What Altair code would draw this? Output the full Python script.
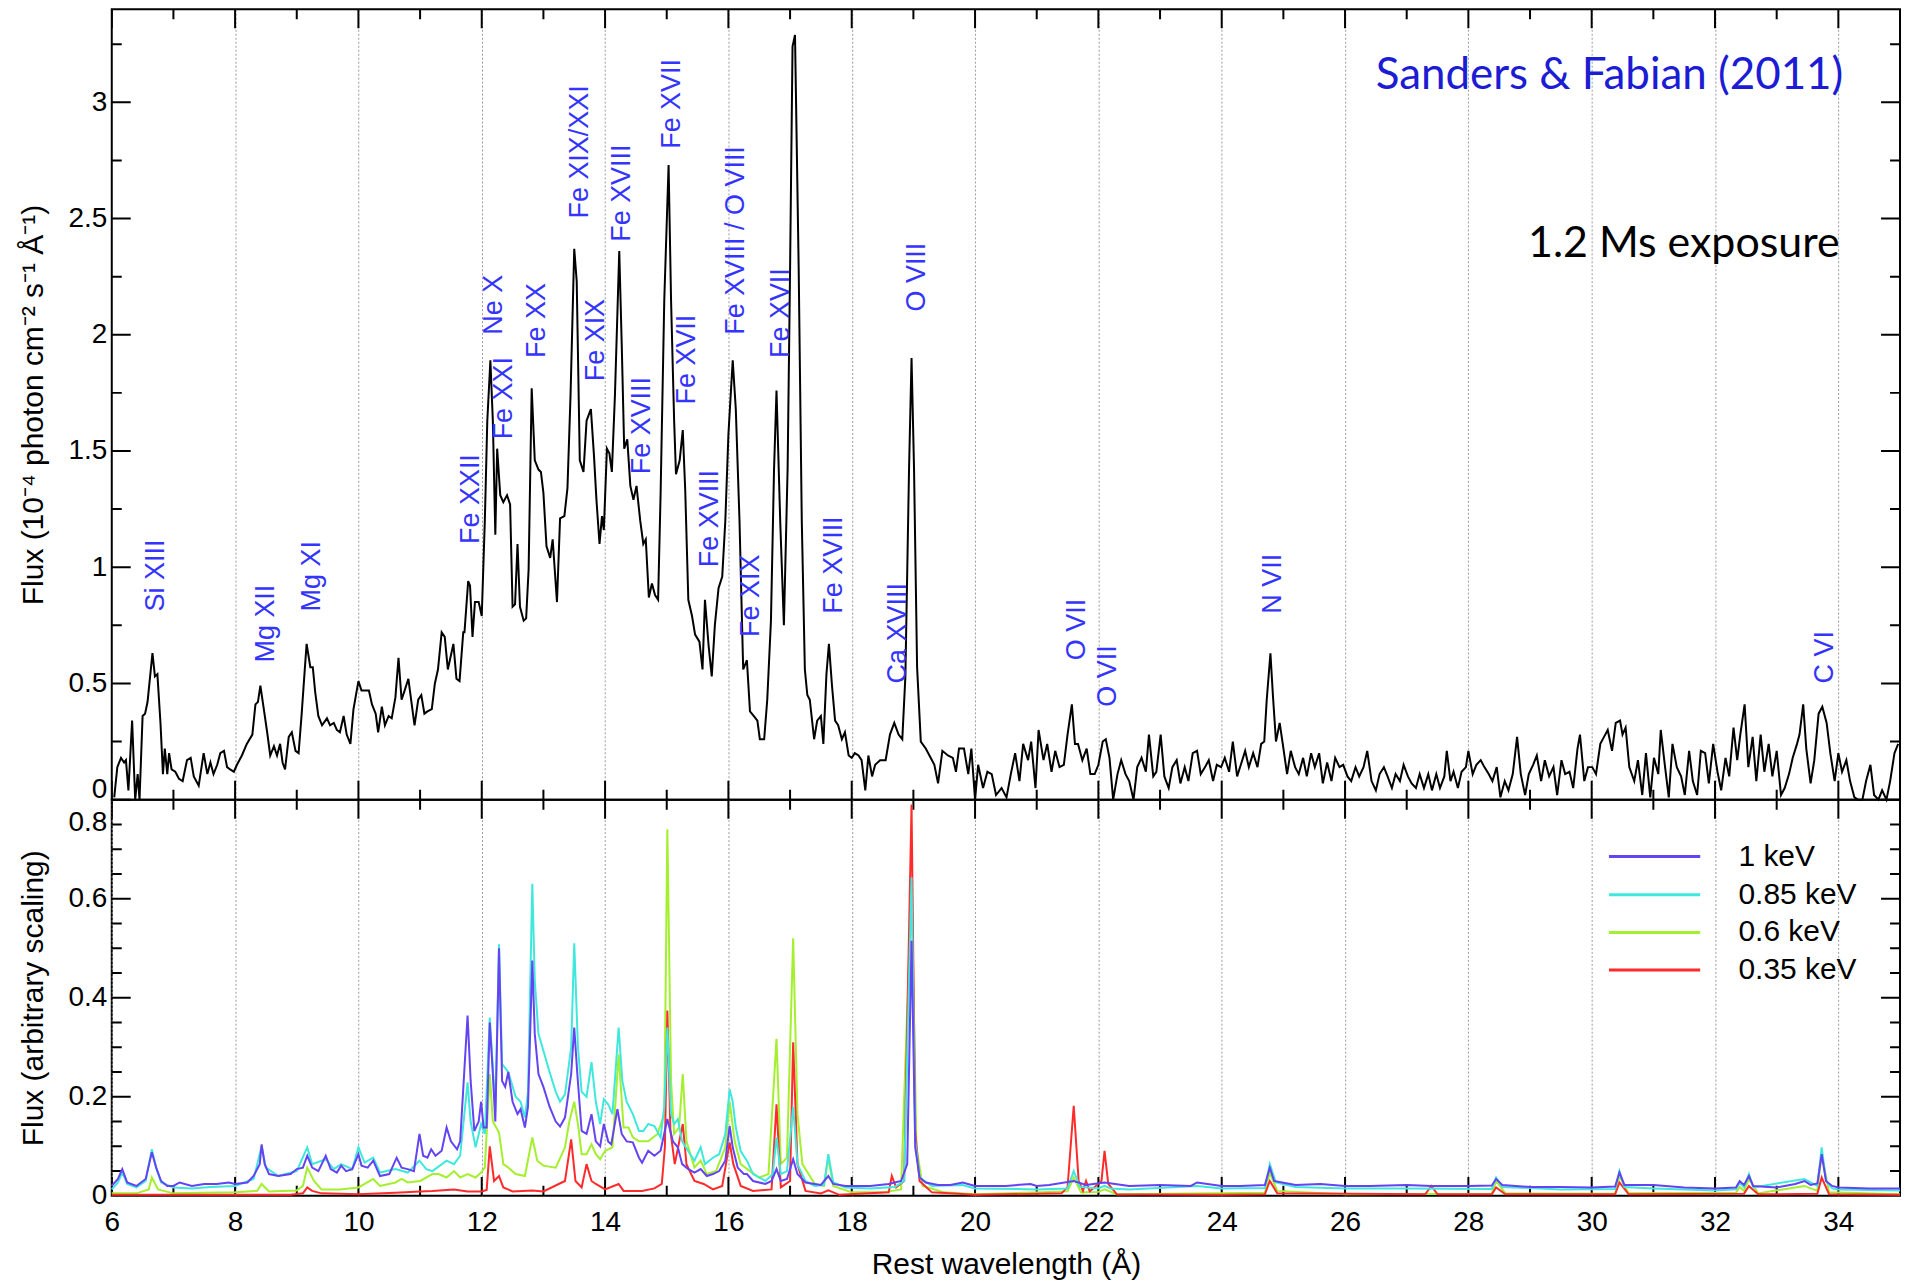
import altair as alt
import pandas as pd

# ---------------- observed spectrum (top panel) ----------------
obs_wl = [
    6.04, 6.09, 6.15, 6.20, 6.23, 6.27, 6.33, 6.38, 6.42, 6.45,
    6.50, 6.54, 6.58, 6.66, 6.70, 6.74, 6.79, 6.83, 6.86, 6.90,
    6.93, 6.97, 7.03, 7.09, 7.15, 7.22, 7.28, 7.33, 7.41, 7.49,
    7.55, 7.60, 7.65, 7.71, 7.76, 7.82, 7.87, 7.92, 7.98, 8.03,
    8.11, 8.19, 8.28, 8.33, 8.37, 8.41, 8.46, 8.52, 8.57, 8.63,
    8.68, 8.73, 8.77, 8.81, 8.87, 8.92, 8.98, 9.03, 9.08, 9.13,
    9.16, 9.22, 9.26, 9.30, 9.35, 9.41, 9.49, 9.54, 9.60, 9.65,
    9.70, 9.76, 9.81, 9.87, 9.92, 10.00, 10.05, 10.12, 10.17, 10.22,
    10.28, 10.32, 10.38, 10.43, 10.49, 10.54, 10.60, 10.65, 10.70, 10.75,
    10.81, 10.86, 10.91, 10.97, 11.02, 11.07, 11.12, 11.19, 11.24, 11.29,
    11.35, 11.40, 11.45, 11.54, 11.59, 11.64, 11.70, 11.72, 11.78, 11.81,
    11.85, 11.89, 11.95, 12.00, 12.05, 12.09, 12.14, 12.18, 12.22, 12.25,
    12.30, 12.35, 12.41, 12.46, 12.50, 12.54, 12.58, 12.62, 12.68, 12.72,
    12.76, 12.81, 12.86, 12.92, 12.96, 13.00, 13.05, 13.11, 13.15, 13.22,
    13.27, 13.34, 13.39, 13.44, 13.50, 13.54, 13.59, 13.65, 13.70, 13.77,
    13.82, 13.86, 13.91, 13.95, 13.98, 14.03, 14.07, 14.11, 14.16, 14.23,
    14.27, 14.31, 14.36, 14.41, 14.46, 14.51, 14.57, 14.62, 14.66, 14.71,
    14.76, 14.81, 14.86, 14.90, 14.96, 15.03, 15.07, 15.12, 15.15, 15.21,
    15.26, 15.30, 15.35, 15.41, 15.46, 15.53, 15.58, 15.62, 15.68, 15.73,
    15.78, 15.84, 15.90, 15.95, 16.00, 16.07, 16.12, 16.18, 16.22, 16.24,
    16.30, 16.35, 16.41, 16.47, 16.51, 16.58, 16.63, 16.69, 16.74, 16.78,
    16.84, 16.90, 16.96, 17.00, 17.04, 17.08, 17.14, 17.19, 17.24, 17.28,
    17.32, 17.39, 17.44, 17.50, 17.54, 17.59, 17.63, 17.68, 17.73, 17.78,
    17.84, 17.89, 17.95, 18.00, 18.05, 18.11, 18.16, 18.22, 18.27, 18.33,
    18.38, 18.46, 18.55, 18.62, 18.69, 18.76, 18.82, 18.87, 18.93, 18.97,
    19.01, 19.06, 19.12, 19.20, 19.28, 19.34, 19.40, 19.47, 19.56, 19.64,
    19.69, 19.74, 19.82, 19.89, 19.94, 20.00, 20.05, 20.13, 20.20, 20.27,
    20.34, 20.43, 20.51, 20.58, 20.65, 20.72, 20.78, 20.86, 20.91, 20.98,
    21.03, 21.11, 21.17, 21.24, 21.30, 21.37, 21.44, 21.50, 21.57, 21.62,
    21.67, 21.74, 21.81, 21.87, 21.94, 22.00, 22.07, 22.12, 22.18, 22.24,
    22.31, 22.37, 22.44, 22.50, 22.57, 22.63, 22.70, 22.77, 22.82, 22.89,
    22.94, 23.01, 23.07, 23.14, 23.20, 23.27, 23.33, 23.40, 23.46, 23.53,
    23.60, 23.66, 23.73, 23.79, 23.86, 23.92, 23.99, 24.05, 24.12, 24.18,
    24.25, 24.31, 24.38, 24.44, 24.51, 24.58, 24.64, 24.69, 24.73, 24.79,
    24.83, 24.88, 24.94, 24.99, 25.06, 25.12, 25.19, 25.25, 25.32, 25.38,
    25.45, 25.51, 25.58, 25.64, 25.71, 25.78, 25.84, 25.91, 25.97, 26.04,
    26.10, 26.17, 26.23, 26.30, 26.36, 26.43, 26.50, 26.56, 26.63, 26.69,
    26.76, 26.82, 26.89, 26.95, 27.02, 27.08, 27.15, 27.21, 27.28, 27.35,
    27.41, 27.48, 27.54, 27.61, 27.65, 27.71, 27.76, 27.83, 27.89, 27.96,
    28.00, 28.07, 28.13, 28.20, 28.26, 28.33, 28.39, 28.46, 28.52, 28.59,
    28.65, 28.72, 28.79, 28.85, 28.92, 28.98, 29.05, 29.11, 29.18, 29.24,
    29.31, 29.38, 29.44, 29.51, 29.57, 29.64, 29.70, 29.77, 29.81, 29.88,
    29.94, 30.01, 30.07, 30.14, 30.20, 30.26, 30.33, 30.39, 30.46, 30.50,
    30.55, 30.61, 30.69, 30.75, 30.82, 30.88, 30.95, 31.01, 31.08, 31.12,
    31.19, 31.25, 31.31, 31.38, 31.45, 31.51, 31.58, 31.64, 31.71, 31.77,
    31.84, 31.90, 31.97, 32.04, 32.10, 32.17, 32.23, 32.30, 32.36, 32.41,
    32.48, 32.54, 32.61, 32.67, 32.74, 32.80, 32.87, 32.93, 33.00, 33.07,
    33.13, 33.20, 33.26, 33.33, 33.37, 33.43, 33.48, 33.55, 33.61, 33.68,
    33.74, 33.81, 33.87, 33.94, 34.00, 34.06, 34.13, 34.19, 34.26, 34.32,
    34.39, 34.45, 34.52, 34.58, 34.65, 34.71, 34.78, 34.84, 34.91, 34.97,
]
obs_flux = [
    0.01, 0.14, 0.18, 0.16, 0.17, 0.04, 0.34, 0.00, 0.11, 0.00,
    0.36, 0.37, 0.42, 0.63, 0.53, 0.54, 0.33, 0.11, 0.22, 0.11,
    0.20, 0.13, 0.12, 0.09, 0.08, 0.17, 0.18, 0.10, 0.06, 0.20,
    0.11, 0.16, 0.11, 0.15, 0.20, 0.21, 0.14, 0.13, 0.12, 0.15,
    0.19, 0.24, 0.28, 0.41, 0.42, 0.49, 0.40, 0.29, 0.19, 0.23,
    0.19, 0.24, 0.16, 0.13, 0.27, 0.29, 0.21, 0.20, 0.37, 0.56,
    0.67, 0.57, 0.57, 0.46, 0.36, 0.32, 0.35, 0.32, 0.33, 0.30,
    0.29, 0.36, 0.28, 0.24, 0.39, 0.51, 0.47, 0.47, 0.47, 0.41,
    0.37, 0.29, 0.40, 0.32, 0.36, 0.35, 0.44, 0.61, 0.43, 0.47,
    0.52, 0.42, 0.32, 0.43, 0.45, 0.37, 0.38, 0.39, 0.50, 0.56,
    0.72, 0.70, 0.56, 0.67, 0.52, 0.51, 0.72, 0.72, 0.94, 0.92,
    0.70, 0.85, 0.85, 0.79, 1.20, 1.63, 1.89, 1.63, 1.14, 1.51,
    1.31, 1.28, 1.31, 1.27, 0.83, 0.84, 1.10, 0.83, 0.77, 0.78,
    0.99, 1.77, 1.46, 1.42, 1.41, 1.32, 1.09, 1.04, 1.12, 0.85,
    1.21, 1.22, 1.34, 1.74, 2.37, 2.23, 1.46, 1.41, 1.63, 1.68,
    1.48, 1.29, 1.10, 1.22, 1.16, 1.51, 1.49, 1.41, 1.74, 2.36,
    1.96, 1.51, 1.55, 1.35, 1.29, 1.35, 1.20, 1.10, 1.12, 0.87,
    0.93, 0.88, 0.86, 1.31, 2.15, 2.73, 2.15, 1.63, 1.40, 1.46,
    1.59, 1.33, 0.86, 0.79, 0.71, 0.68, 0.56, 0.86, 0.66, 0.53,
    0.75, 0.91, 0.96, 1.20, 1.57, 1.89, 1.68, 1.20, 0.77, 0.56,
    0.60, 0.38, 0.36, 0.34, 0.26, 0.26, 0.43, 0.77, 1.42, 1.76,
    1.20, 0.75, 1.42, 2.28, 3.24, 3.29, 2.28, 1.20, 0.56, 0.45,
    0.43, 0.26, 0.34, 0.36, 0.24, 0.54, 0.67, 0.49, 0.34, 0.32,
    0.26, 0.29, 0.19, 0.18, 0.20, 0.19, 0.17, 0.04, 0.19, 0.10,
    0.15, 0.17, 0.17, 0.28, 0.33, 0.28, 0.26, 0.53, 1.43, 1.90,
    1.43, 0.57, 0.25, 0.22, 0.18, 0.15, 0.07, 0.21, 0.19, 0.18,
    0.12, 0.22, 0.22, 0.11, 0.22, 0.00, 0.15, 0.05, 0.12, 0.11,
    0.02, 0.05, 0.01, 0.11, 0.20, 0.08, 0.24, 0.17, 0.25, 0.05,
    0.30, 0.17, 0.24, 0.12, 0.21, 0.14, 0.15, 0.28, 0.41, 0.24,
    0.24, 0.17, 0.22, 0.11, 0.11, 0.15, 0.25, 0.26, 0.18, 0.00,
    0.11, 0.17, 0.11, 0.08, 0.00, 0.14, 0.18, 0.12, 0.28, 0.10,
    0.12, 0.28, 0.10, 0.05, 0.14, 0.17, 0.07, 0.14, 0.08, 0.20,
    0.21, 0.11, 0.14, 0.17, 0.08, 0.15, 0.14, 0.18, 0.12, 0.25,
    0.10, 0.15, 0.21, 0.14, 0.20, 0.14, 0.24, 0.25, 0.43, 0.63,
    0.45, 0.25, 0.33, 0.24, 0.11, 0.21, 0.14, 0.11, 0.18, 0.10,
    0.20, 0.14, 0.20, 0.07, 0.16, 0.08, 0.18, 0.14, 0.15, 0.10,
    0.08, 0.14, 0.10, 0.14, 0.21, 0.08, 0.04, 0.11, 0.14, 0.10,
    0.05, 0.11, 0.08, 0.15, 0.10, 0.07, 0.05, 0.11, 0.05, 0.11,
    0.04, 0.11, 0.05, 0.10, 0.21, 0.08, 0.12, 0.05, 0.12, 0.14,
    0.21, 0.11, 0.15, 0.17, 0.14, 0.11, 0.08, 0.14, 0.01, 0.08,
    0.04, 0.11, 0.27, 0.11, 0.02, 0.11, 0.15, 0.19, 0.08, 0.17,
    0.10, 0.14, 0.02, 0.17, 0.11, 0.12, 0.05, 0.22, 0.28, 0.08,
    0.14, 0.14, 0.11, 0.24, 0.27, 0.30, 0.21, 0.33, 0.34, 0.28,
    0.31, 0.14, 0.08, 0.17, 0.02, 0.20, 0.01, 0.18, 0.11, 0.30,
    0.14, 0.01, 0.24, 0.14, 0.10, 0.02, 0.21, 0.08, 0.02, 0.21,
    0.20, 0.07, 0.24, 0.12, 0.04, 0.18, 0.10, 0.31, 0.17, 0.28,
    0.41, 0.14, 0.27, 0.08, 0.28, 0.12, 0.24, 0.10, 0.21, 0.02,
    0.05, 0.11, 0.18, 0.24, 0.28, 0.41, 0.22, 0.07, 0.17, 0.37,
    0.40, 0.33, 0.20, 0.08, 0.20, 0.12, 0.17, 0.08, 0.01, 0.00,
    0.00, 0.08, 0.15, 0.02, 0.00, 0.04, 0.00, 0.08, 0.20, 0.24,
]

# ---------------- model spectra (bottom panel) ----------------
kev1_wl = [
    6.00, 6.10, 6.17, 6.25, 6.40, 6.55, 6.65, 6.72, 6.80, 6.90,
    7.00, 7.10, 7.30, 7.50, 7.70, 7.90, 8.00, 8.20, 8.30, 8.40,
    8.43, 8.48, 8.55, 8.70, 8.90, 9.00, 9.10, 9.17, 9.25, 9.35,
    9.47, 9.55, 9.65, 9.72, 9.80, 9.90, 10.00, 10.05, 10.15, 10.24,
    10.35, 10.50, 10.62, 10.70, 10.80, 10.90, 10.99, 11.05, 11.12, 11.18,
    11.25, 11.35, 11.43, 11.50, 11.60, 11.65, 11.77, 11.82, 11.88, 11.95,
    11.99, 12.03, 12.08, 12.13, 12.18, 12.22, 12.28, 12.33, 12.38, 12.43,
    12.50, 12.58, 12.63, 12.70, 12.75, 12.82, 12.86, 12.92, 13.00, 13.10,
    13.20, 13.27, 13.35, 13.45, 13.50, 13.55, 13.62, 13.70, 13.78, 13.85,
    13.92, 13.98, 14.05, 14.10, 14.20, 14.27, 14.35, 14.45, 14.55, 14.60,
    14.70, 14.80, 14.90, 15.01, 15.10, 15.18, 15.25, 15.35, 15.45, 15.55,
    15.65, 15.75, 15.85, 15.95, 16.02, 16.07, 16.15, 16.25, 16.30, 16.40,
    16.60, 16.70, 16.78, 16.85, 16.95, 17.05, 17.12, 17.25, 17.40, 17.50,
    17.62, 17.70, 17.90, 18.30, 18.60, 18.80, 18.90, 18.97, 19.03, 19.10,
    19.20, 19.40, 19.60, 19.80, 20.00, 20.50, 20.90, 21.00, 21.20, 21.60,
    21.80, 22.10, 22.50, 23.00, 23.50, 23.60, 24.00, 24.30, 24.70, 24.78,
    24.85, 24.98, 25.20, 25.60, 26.00, 26.40, 27.00, 27.40, 28.00, 28.38,
    28.45, 28.55, 29.00, 29.50, 30.00, 30.38, 30.45, 30.53, 31.00, 31.50,
    32.00, 32.34, 32.40, 32.47, 32.55, 32.62, 33.00, 33.30, 33.45, 33.55,
    33.66, 33.73, 33.80, 33.90, 34.00, 34.50, 35.00,
]
kev1_flux = [
    0.020, 0.034, 0.054, 0.027, 0.020, 0.034, 0.088, 0.057, 0.030, 0.020,
    0.020, 0.027, 0.020, 0.024, 0.024, 0.027, 0.024, 0.027, 0.040, 0.064,
    0.104, 0.064, 0.044, 0.040, 0.044, 0.054, 0.057, 0.081, 0.057, 0.050,
    0.081, 0.054, 0.047, 0.061, 0.050, 0.054, 0.084, 0.061, 0.057, 0.071,
    0.040, 0.044, 0.077, 0.057, 0.054, 0.050, 0.125, 0.081, 0.077, 0.094,
    0.081, 0.091, 0.138, 0.110, 0.094, 0.110, 0.364, 0.232, 0.131, 0.150,
    0.190, 0.138, 0.138, 0.350, 0.246, 0.150, 0.500, 0.232, 0.220, 0.250,
    0.190, 0.165, 0.175, 0.138, 0.180, 0.475, 0.327, 0.246, 0.220, 0.180,
    0.150, 0.140, 0.158, 0.246, 0.340, 0.246, 0.131, 0.125, 0.165, 0.110,
    0.100, 0.145, 0.110, 0.104, 0.175, 0.125, 0.110, 0.108, 0.077, 0.067,
    0.091, 0.081, 0.091, 0.155, 0.110, 0.098, 0.064, 0.054, 0.047, 0.054,
    0.040, 0.044, 0.050, 0.071, 0.141, 0.098, 0.057, 0.044, 0.044, 0.030,
    0.024, 0.030, 0.054, 0.030, 0.034, 0.074, 0.044, 0.027, 0.024, 0.022,
    0.040, 0.024, 0.020, 0.020, 0.024, 0.030, 0.064, 0.515, 0.098, 0.037,
    0.027, 0.022, 0.022, 0.027, 0.020, 0.020, 0.024, 0.020, 0.022, 0.030,
    0.022, 0.027, 0.020, 0.022, 0.020, 0.027, 0.020, 0.020, 0.022, 0.057,
    0.030, 0.027, 0.022, 0.024, 0.020, 0.020, 0.022, 0.020, 0.020, 0.021,
    0.034, 0.022, 0.018, 0.018, 0.017, 0.019, 0.047, 0.022, 0.022, 0.017,
    0.015, 0.017, 0.030, 0.022, 0.040, 0.020, 0.017, 0.024, 0.030, 0.022,
    0.025, 0.084, 0.030, 0.020, 0.017, 0.015, 0.015,
]

kev085_wl = [
    6.00, 6.10, 6.17, 6.25, 6.40, 6.55, 6.65, 6.72, 6.80, 7.00,
    7.30, 7.60, 8.00, 8.30, 8.43, 8.50, 8.70, 9.00, 9.17, 9.25,
    9.47, 9.60, 9.72, 9.90, 10.00, 10.10, 10.24, 10.35, 10.60, 10.80,
    10.99, 11.10, 11.20, 11.43, 11.55, 11.65, 11.77, 11.82, 11.90, 11.99,
    12.05, 12.13, 12.18, 12.22, 12.28, 12.33, 12.43, 12.55, 12.63, 12.70,
    12.75, 12.82, 12.86, 12.92, 13.00, 13.10, 13.20, 13.27, 13.35, 13.45,
    13.50, 13.56, 13.62, 13.70, 13.78, 13.85, 13.92, 13.98, 14.05, 14.12,
    14.22, 14.28, 14.35, 14.45, 14.55, 14.62, 14.70, 14.80, 14.90, 14.96,
    15.01, 15.07, 15.12, 15.18, 15.25, 15.35, 15.45, 15.55, 15.62, 15.75,
    15.85, 15.95, 16.02, 16.07, 16.12, 16.20, 16.30, 16.40, 16.60, 16.72,
    16.78, 16.85, 16.95, 17.05, 17.12, 17.25, 17.40, 17.55, 17.62, 17.70,
    17.90, 18.30, 18.70, 18.85, 18.97, 19.03, 19.10, 19.30, 19.80, 20.00,
    21.00, 21.50, 21.60, 21.70, 22.00, 22.10, 22.20, 22.50, 23.60, 24.00,
    24.70, 24.78, 24.88, 25.20, 26.00, 27.00, 28.38, 28.45, 28.55, 29.50,
    30.38, 30.45, 30.53, 31.00, 32.00, 32.34, 32.40, 32.47, 32.55, 32.62,
    33.45, 33.66, 33.73, 33.80, 33.90, 34.00, 35.00,
]
kev085_flux = [
    0.013, 0.027, 0.047, 0.024, 0.017, 0.030, 0.094, 0.057, 0.027, 0.017,
    0.015, 0.018, 0.020, 0.034, 0.100, 0.057, 0.040, 0.050, 0.098, 0.064,
    0.074, 0.054, 0.064, 0.054, 0.098, 0.067, 0.077, 0.047, 0.054, 0.047,
    0.071, 0.054, 0.050, 0.071, 0.064, 0.081, 0.229, 0.150, 0.098, 0.145,
    0.125, 0.360, 0.260, 0.170, 0.508, 0.266, 0.250, 0.200, 0.190, 0.158,
    0.210, 0.630, 0.434, 0.327, 0.293, 0.250, 0.210, 0.190, 0.205, 0.300,
    0.510, 0.300, 0.210, 0.200, 0.270, 0.190, 0.145, 0.195, 0.185, 0.165,
    0.340, 0.232, 0.190, 0.165, 0.131, 0.131, 0.145, 0.141, 0.118, 0.180,
    0.340, 0.165, 0.145, 0.155, 0.110, 0.090, 0.071, 0.098, 0.064, 0.077,
    0.084, 0.125, 0.215, 0.190, 0.138, 0.090, 0.071, 0.044, 0.030, 0.044,
    0.118, 0.044, 0.050, 0.180, 0.064, 0.030, 0.020, 0.022, 0.084, 0.027,
    0.017, 0.015, 0.018, 0.030, 0.643, 0.111, 0.037, 0.020, 0.022, 0.015,
    0.013, 0.015, 0.050, 0.018, 0.015, 0.020, 0.015, 0.013, 0.020, 0.015,
    0.016, 0.064, 0.027, 0.018, 0.015, 0.015, 0.014, 0.037, 0.018, 0.013,
    0.014, 0.050, 0.018, 0.015, 0.011, 0.013, 0.027, 0.017, 0.044, 0.017,
    0.034, 0.020, 0.098, 0.030, 0.015, 0.013, 0.011,
]

kev06_wl = [
    6.00, 6.40, 6.60, 6.65, 6.75, 7.00, 8.00, 8.36, 8.43, 8.55,
    9.00, 9.10, 9.17, 9.28, 9.40, 9.70, 10.00, 10.24, 10.35, 10.60,
    10.70, 10.80, 11.00, 11.20, 11.30, 11.43, 11.55, 11.65, 11.77, 11.90,
    11.99, 12.05, 12.13, 12.18, 12.28, 12.35, 12.43, 12.55, 12.70, 12.82,
    12.90, 13.00, 13.20, 13.35, 13.42, 13.50, 13.56, 13.62, 13.70, 13.78,
    13.85, 13.92, 14.00, 14.12, 14.22, 14.30, 14.38, 14.45, 14.55, 14.70,
    14.85, 14.96, 15.01, 15.07, 15.12, 15.20, 15.26, 15.32, 15.45, 15.55,
    15.65, 15.80, 15.95, 16.02, 16.10, 16.20, 16.35, 16.50, 16.65, 16.78,
    16.85, 16.95, 17.05, 17.12, 17.20, 17.40, 17.55, 17.62, 17.70, 18.00,
    18.50, 18.80, 18.97, 19.05, 19.15, 19.50, 20.00, 21.50, 21.60, 21.72,
    22.00, 22.10, 22.30, 24.00, 24.70, 24.78, 24.90, 26.00, 28.38, 28.45,
    28.60, 30.38, 30.45, 30.60, 32.34, 32.40, 32.47, 32.55, 32.70, 33.45,
    33.66, 33.73, 33.85, 35.00,
]
kev06_flux = [
    0.005, 0.005, 0.013, 0.037, 0.013, 0.005, 0.007, 0.010, 0.024, 0.009,
    0.011, 0.020, 0.057, 0.030, 0.013, 0.013, 0.017, 0.034, 0.020, 0.027,
    0.034, 0.027, 0.030, 0.044, 0.044, 0.037, 0.050, 0.037, 0.044, 0.037,
    0.047, 0.057, 0.246, 0.150, 0.128, 0.064, 0.057, 0.044, 0.040, 0.118,
    0.071, 0.061, 0.057, 0.098, 0.150, 0.190, 0.145, 0.084, 0.084, 0.104,
    0.084, 0.074, 0.091, 0.098, 0.286, 0.138, 0.138, 0.118, 0.110, 0.110,
    0.125, 0.165, 0.740, 0.232, 0.125, 0.138, 0.246, 0.110, 0.057, 0.071,
    0.044, 0.050, 0.098, 0.190, 0.111, 0.064, 0.050, 0.037, 0.044, 0.317,
    0.064, 0.077, 0.520, 0.165, 0.064, 0.024, 0.020, 0.077, 0.020, 0.007,
    0.007, 0.013, 0.636, 0.098, 0.020, 0.007, 0.003, 0.009, 0.037, 0.007,
    0.008, 0.013, 0.003, 0.005, 0.006, 0.047, 0.010, 0.003, 0.004, 0.030,
    0.005, 0.004, 0.040, 0.005, 0.006, 0.018, 0.010, 0.034, 0.005, 0.020,
    0.010, 0.084, 0.007, 0.003,
]

kev035_wl = [
    6.00, 8.90, 9.10, 9.17, 9.25, 9.40, 10.00, 10.60, 11.00, 11.20,
    11.55, 11.77, 12.00, 12.08, 12.13, 12.20, 12.28, 12.35, 12.50, 12.82,
    13.00, 13.35, 13.45, 13.52, 13.62, 13.70, 13.78, 13.85, 14.00, 14.22,
    14.30, 14.60, 14.80, 14.92, 14.97, 15.01, 15.06, 15.13, 15.26, 15.32,
    15.45, 15.60, 15.75, 15.90, 15.97, 16.02, 16.08, 16.20, 16.40, 16.70,
    16.78, 16.85, 17.00, 17.05, 17.12, 17.25, 17.50, 17.62, 17.80, 18.60,
    18.65, 18.72, 18.85, 18.97, 19.03, 19.10, 19.30, 20.00, 21.40, 21.50,
    21.60, 21.68, 21.75, 21.80, 21.86, 22.05, 22.10, 22.16, 22.30, 24.00,
    24.70, 24.78, 24.90, 27.30, 27.40, 27.50, 28.38, 28.45, 28.60, 30.38,
    30.45, 30.60, 32.47, 32.55, 32.70, 33.66, 33.73, 33.85, 35.00,
]
kev035_flux = [
    0.002, 0.002, 0.005, 0.017, 0.010, 0.005, 0.003, 0.006, 0.009, 0.010,
    0.013, 0.009, 0.009, 0.012, 0.100, 0.030, 0.040, 0.017, 0.009, 0.011,
    0.009, 0.030, 0.114, 0.030, 0.017, 0.064, 0.030, 0.024, 0.013, 0.024,
    0.010, 0.010, 0.015, 0.024, 0.098, 0.374, 0.131, 0.064, 0.145, 0.064,
    0.030, 0.024, 0.013, 0.020, 0.071, 0.108, 0.064, 0.020, 0.010, 0.013,
    0.185, 0.017, 0.030, 0.310, 0.064, 0.010, 0.005, 0.011, 0.002, 0.007,
    0.040, 0.017, 0.030, 0.790, 0.131, 0.030, 0.007, 0.002, 0.005, 0.017,
    0.182, 0.030, 0.010, 0.030, 0.009, 0.030, 0.091, 0.024, 0.003, 0.002,
    0.003, 0.030, 0.005, 0.003, 0.020, 0.003, 0.003, 0.017, 0.003, 0.003,
    0.027, 0.003, 0.004, 0.020, 0.003, 0.004, 0.037, 0.003, 0.002,
]

series_names = ["1 keV", "0.85 keV", "0.6 keV", "0.35 keV"]
series_colors = ["#6443f2", "#3fe8dc", "#a4ef2e", "#ff2b2b"]

# ---------------- line identifications ----------------
line_labels = ["Si XIII", "Mg XII", "Mg XI", "Fe XXII", "Ne X", "Fe XXI", "Fe XX",
               "Fe XIX/XXI", "Fe XIX", "Fe XVIII", "Fe XVIII", "Fe XVII", "Fe XVII",
               "Fe XVIII", "Fe XVIII / O VIII", "Fe XIX", "Fe XVII", "Fe XVIII",
               "Ca XVIII", "O VIII", "O VII", "O VII", "N VII", "C VI"]
line_label_wl = [6.71, 8.50, 9.24, 11.82, 12.20, 12.36, 12.89, 13.60, 13.86, 14.28,
                 14.60, 15.08, 15.33, 15.70, 16.12, 16.36, 16.86, 17.71, 18.75, 19.06,
                 21.66, 22.15, 24.84, 33.79]
line_label_flux = [0.81, 0.59, 0.81, 1.10, 2.00, 1.55, 1.90, 2.50, 1.80, 2.40,
                   1.40, 2.80, 1.70, 1.00, 2.00, 0.70, 1.90, 0.80, 0.50, 2.10,
                   0.60, 0.40, 0.80, 0.50]

header_texts = ["Sanders & Fabian (2011)", "1.2 Ms exposure"]
header_wl = [34.08, 34.02]
header_flux = [3.115, 2.39]

# ---------------- axis ticks ----------------
x_major = [6, 8, 10, 12, 14, 16, 18, 20, 22, 24, 26, 28, 30, 32, 34]
x_minor = [7, 9, 11, 13, 15, 17, 19, 21, 23, 25, 27, 29, 31, 33, 35]
x_grid = [8, 10, 12, 14, 16, 18, 20, 22, 24, 26, 28, 30, 32, 34]
top_y_major = [0, 0.5, 1, 1.5, 2, 2.5, 3]
top_y_minor = [0.25, 0.75, 1.25, 1.75, 2.25, 2.75, 3.25]
bot_y_major = [0, 0.2, 0.4, 0.6, 0.8]
bot_y_minor = [0.05, 0.1, 0.15, 0.25, 0.3, 0.35, 0.45, 0.5, 0.55, 0.65, 0.7, 0.75]

# legend placement (data coordinates of the bottom panel)
legend_line_start, legend_line_end, legend_text_x = 30.28, 31.76, 32.38
legend_rows = [0.685, 0.608, 0.532, 0.456]

# ---------------- layout / style ----------------
FONT = "Liberation Sans"
W, H1, H2 = 1792, 792, 397
MAJOR, MINOR = 19, 10            # tick lengths in pixels (drawn as clipped ticks)
X_DOM = (6, 35)
Y1_DOM = (0, 3.4)
Y2_DOM = (0, 0.8)

x_scale = alt.Scale(domain=list(X_DOM), nice=False, zero=False)
y1_scale = alt.Scale(domain=list(Y1_DOM), nice=False, zero=False)
y2_scale = alt.Scale(domain=list(Y2_DOM), nice=False, zero=False)

obs_df = pd.DataFrame({"wl": obs_wl, "flux": obs_flux})
model_dfs = [
    pd.DataFrame({"wl": kev1_wl, "flux": kev1_flux}),
    pd.DataFrame({"wl": kev085_wl, "flux": kev085_flux}),
    pd.DataFrame({"wl": kev06_wl, "flux": kev06_flux}),
    pd.DataFrame({"wl": kev035_wl, "flux": kev035_flux}),
]
label_df = pd.DataFrame({"label": line_labels, "wl": line_label_wl, "flux": line_label_flux})
legend_df = pd.DataFrame({
    "name": series_names,
    "color": series_colors,
    "wl": [legend_line_start] * 4,
    "wl2": [legend_line_end] * 4,
    "wlt": [legend_text_x] * 4,
    "flux": legend_rows,
})


def tick_marks(y_scale, y_dom, y_major, y_minor):
    """Inward ticks on all four borders: tick marks centred on the frame, clipped to the plot."""
    layers = []
    for vals, size in [(x_major, MAJOR), (x_minor, MINOR)]:
        rows = [{"wl": v, "flux": y} for v in vals for y in y_dom]
        layers.append(
            alt.Chart(pd.DataFrame(rows)).mark_tick(
                orient="vertical", size=2 * size, thickness=2, color="black",
                opacity=1, clip=True
            ).encode(x=alt.X("wl:Q", scale=x_scale), y=alt.Y("flux:Q", scale=y_scale))
        )
    for vals, size in [(y_major, MAJOR), (y_minor, MINOR)]:
        rows = [{"wl": x, "flux": v} for v in vals for x in X_DOM]
        layers.append(
            alt.Chart(pd.DataFrame(rows)).mark_tick(
                orient="horizontal", size=2 * size, thickness=2, color="black",
                opacity=1, clip=True
            ).encode(x=alt.X("wl:Q", scale=x_scale), y=alt.Y("flux:Q", scale=y_scale))
        )
    return layers


grid_axis = alt.Axis(orient="bottom", values=x_grid, grid=True, gridColor="#9a9a9a",
                     gridDash=[2, 2], gridWidth=1, ticks=False, labels=False,
                     domain=False, title="")

top_y_axis = alt.Axis(
    orient="left", values=top_y_major, format="~g", labelFont=FONT, labelFontSize=28,
    labelColor="black", labelPadding=5, ticks=False, domain=False, grid=False,
    labelOffset={"condition": {"test": "datum.value == 0", "value": -10}, "value": 0},
    title="Flux (10⁻⁴ photon cm⁻² s⁻¹ Å⁻¹)", titleFont=FONT, titleFontSize=30,
    titleFontWeight="normal", titleColor="black", titleX=-78, titleY=H1 / 2,
    titleAngle=270, titleAlign="center", titleBaseline="middle",
)

top_line = alt.Chart(obs_df).mark_line(color="black", strokeWidth=2).encode(
    x=alt.X("wl:Q", scale=x_scale, axis=grid_axis),
    y=alt.Y("flux:Q", scale=y1_scale, axis=top_y_axis),
)

labels_layer = alt.Chart(label_df).mark_text(
    angle=270, align="left", baseline="middle", font=FONT, fontSize=27, color="#3434ff"
).encode(
    x=alt.X("wl:Q", scale=x_scale),
    y=alt.Y("flux:Q", scale=y1_scale),
    text="label:N",
)

header_df1 = pd.DataFrame({"t": header_texts[:1], "wl": header_wl[:1], "flux": header_flux[:1]})
header_df2 = pd.DataFrame({"t": header_texts[1:], "wl": header_wl[1:], "flux": header_flux[1:]})
header1 = alt.Chart(header_df1).mark_text(
    align="right", baseline="middle", font="Lato", fontSize=44, color="#1c1cd4"
).encode(
    x=alt.X("wl:Q", scale=x_scale),
    y=alt.Y("flux:Q", scale=y1_scale),
    text="t:N",
)
header2 = alt.Chart(header_df2).mark_text(
    align="right", baseline="middle", font="Lato", fontSize=43, color="black"
).encode(
    x=alt.X("wl:Q", scale=x_scale),
    y=alt.Y("flux:Q", scale=y1_scale),
    text="t:N",
)

top = alt.layer(
    *tick_marks(y1_scale, Y1_DOM, top_y_major, top_y_minor),
    top_line, labels_layer, header1, header2,
).properties(width=W, height=H1)

# ---------------- bottom panel ----------------
bot_x_axis = alt.Axis(
    orient="bottom", values=x_major, format="d", labelFont=FONT, labelFontSize=28,
    labelColor="black", labelPadding=13, labelFlush=False, ticks=False, domain=False,
    grid=True, gridColor="#9a9a9a", gridDash=[2, 2], gridWidth=1,
    title="Rest wavelength (Å)", titleFont=FONT, titleFontSize=30,
    titleFontWeight="normal", titleColor="black", titleY=69, titleBaseline="middle",
)
bot_y_axis = alt.Axis(
    orient="left", values=bot_y_major, format="~g", labelFont=FONT, labelFontSize=28,
    labelColor="black", labelPadding=5, ticks=False, domain=False, grid=False,
    labelOffset={"condition": {"test": "datum.value >= 0.79", "value": 23}, "value": 0},
    title="Flux (arbitrary scaling)", titleFont=FONT, titleFontSize=30,
    titleFontWeight="normal", titleColor="black", titleX=-78, titleY=H2 / 2,
    titleAngle=270, titleAlign="center", titleBaseline="middle",
)

# draw order: 0.6 keV, 0.35 keV, 0.85 keV, 1 keV (blue on top)
draw_order = [2, 3, 1, 0]
model_layers = []
for k, idx in enumerate(draw_order):
    if k == 0:
        enc = dict(x=alt.X("wl:Q", scale=x_scale, axis=bot_x_axis),
                   y=alt.Y("flux:Q", scale=y2_scale, axis=bot_y_axis))
    else:
        enc = dict(x=alt.X("wl:Q", scale=x_scale), y=alt.Y("flux:Q", scale=y2_scale))
    model_layers.append(
        alt.Chart(model_dfs[idx]).mark_line(color=series_colors[idx], strokeWidth=2).encode(**enc)
    )

legend_lines = alt.Chart(legend_df).mark_rule(strokeWidth=3).encode(
    x=alt.X("wl:Q", scale=x_scale),
    x2="wl2:Q",
    y=alt.Y("flux:Q", scale=y2_scale),
    color=alt.Color("color:N", scale=None),
)
legend_text = alt.Chart(legend_df).mark_text(
    align="left", baseline="middle", font=FONT, fontSize=30, color="black"
).encode(
    x=alt.X("wlt:Q", scale=x_scale),
    y=alt.Y("flux:Q", scale=y2_scale),
    text="name:N",
)

bottom = alt.layer(
    *tick_marks(y2_scale, Y2_DOM, bot_y_major, bot_y_minor),
    *model_layers, legend_lines, legend_text,
).properties(width=W, height=H2)

chart = alt.vconcat(top, bottom, spacing=0, bounds="flush").properties(
    padding={"left": 18, "top": 7, "right": 0, "bottom": 2}
).configure_view(stroke="black", strokeWidth=2)

chart.save("out.html", embed_options={"renderer": "svg", "actions": False})
